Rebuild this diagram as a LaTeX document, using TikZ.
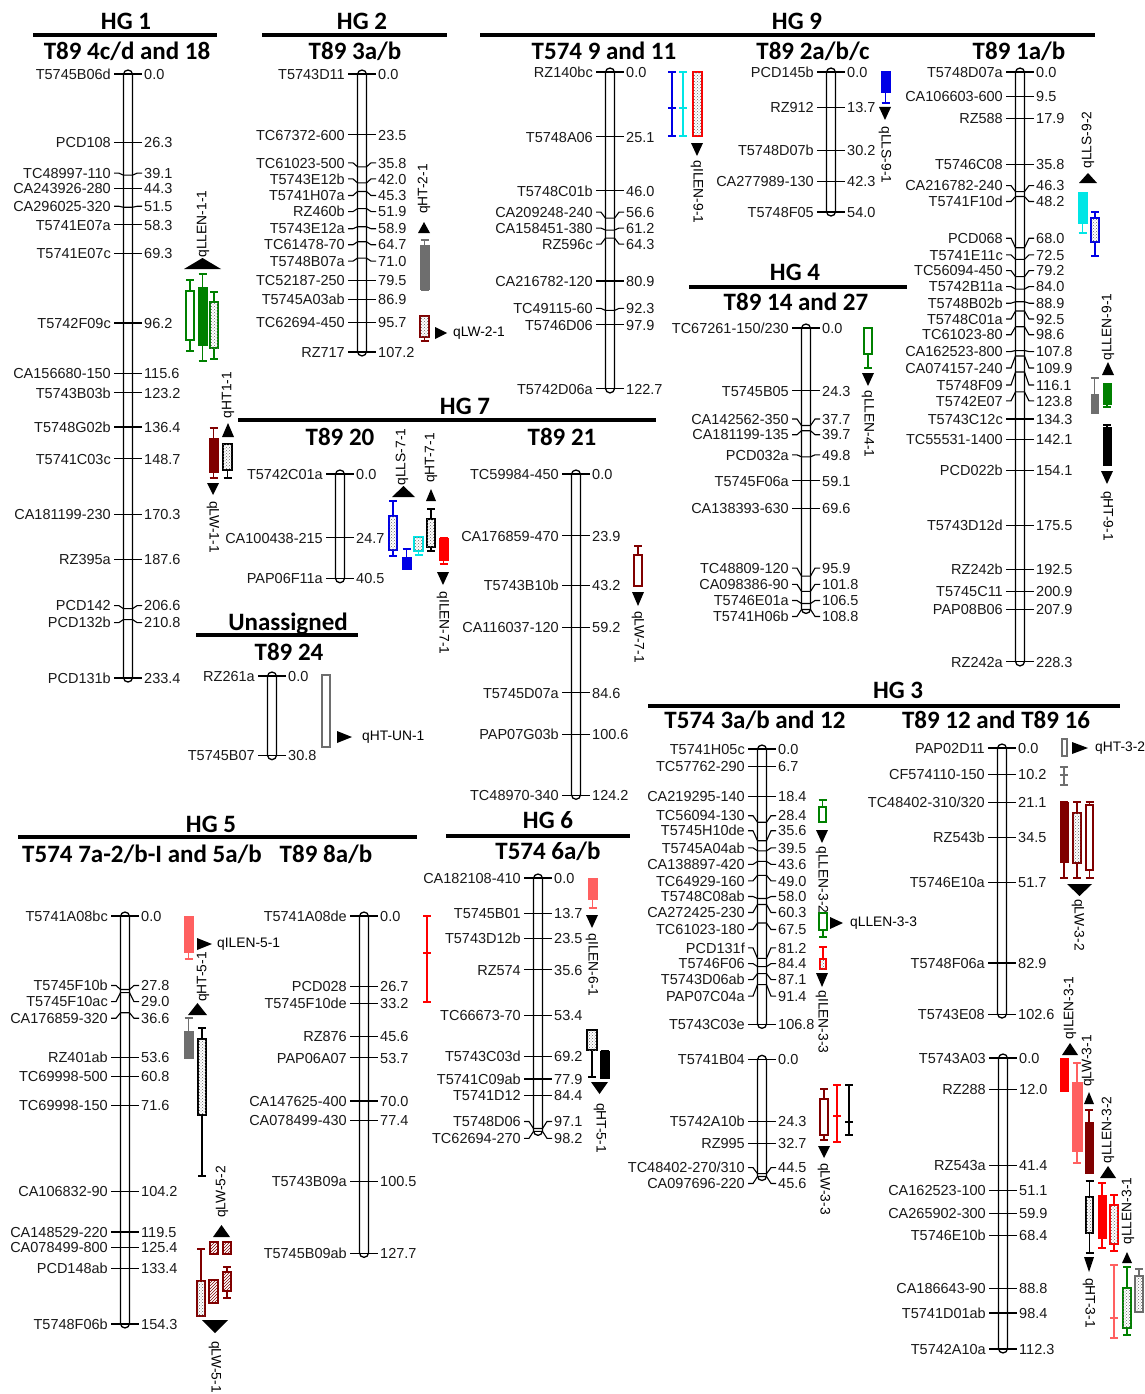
\documentclass[tikz,border=0pt]{standalone}
\usepackage{fontspec}
\setmainfont{Liberation Sans}
\newfontfamily\ttlfont{Carlito}
\usetikzlibrary{patterns}
\definecolor{qgreen}{RGB}{0,128,0}
\definecolor{qmaroon}{RGB}{128,0,0}
\definecolor{qred}{RGB}{255,0,0}
\definecolor{qsalmon}{RGB}{255,96,96}
\definecolor{qblue}{RGB}{0,0,230}
\definecolor{qcyan}{RGB}{0,230,230}
\definecolor{qgrey}{RGB}{110,110,110}
\tikzset{
 chbar/.style={draw=black, line width=1.3pt, fill=white, rounded corners=4.5pt},
 tickline/.style={draw=black, line width=1.1pt},
 mk/.style={font=\fontsize{14.5}{15}\selectfont, inner sep=0pt, text=black!90},
 ql/.style={font=\fontsize{13.8}{14}\selectfont, inner sep=0pt},
 hg/.style={font=\ttlfont\bfseries\fontsize{25}{25}\selectfont, inner sep=0pt, anchor=base},
 hline/.style={line width=4pt},
 qf/.style={draw=#1, fill=#1, line width=1pt},
 qo/.style={draw=#1, fill=white, line width=1.3pt},
 qc/.style={draw=#1, fill=white, line width=1.3pt, postaction={pattern=crosshatch dots, pattern color=black!60}},
 qh/.style={draw=#1, fill=white, line width=1.3pt, postaction={pattern=north east lines, pattern color=#1}},
 wl/.style={draw=#1, line width=1.3pt},
}
% chromosome: prefix, cx, y0, scale, length, list value/dy/name
\newcommand\chrom[6]{%
 \draw[chbar] (#2-4.5,#3-4) rectangle ({#2+4.5},{#3+#5*#4+4});
 \foreach \mv/\md/\mn [count=\mi] in {#6}{%
   \pgfmathsetmacro\yp{#3+\mv*#4}%
   \pgfmathsetmacro\yl{\yp+\md}%
   \draw[tickline] (#2-14,\yl) -- (#2-9,\yl) -- (#2-4.5,\yp) -- (#2+4.5,\yp) -- (#2+9,\yl) -- (#2+14,\yl);
   \node[mk, anchor=base east] (#1n\mi) at (#2-17,\yl+5.2) {\mn};
   \node[mk, anchor=base west] (#1v\mi) at (#2+16,\yl+5.2) {\mv};
 }}
\newcommand\wsk[4]{\draw[wl=#1] (#2,#3) -- (#2,#4) (#2-4,#3) -- (#2+4,#3) (#2-4,#4) -- (#2+4,#4);}
\newcommand\wskm[5]{\draw[wl=#1] (#2,#3) -- (#2,#4) (#2-4,#3) -- (#2+4,#3) (#2-4,#4) -- (#2+4,#4) (#2-4,#5) -- (#2+4,#5);}
\newcommand\qb[6]{\draw[#1=#2] (#3,#4) rectangle (#5,#6);}
\newcommand\tup[4]{\fill (#1-#4,#3) -- (#1+#4,#3) -- (#1,#2) -- cycle;}
\newcommand\tdn[4]{\fill (#1-#4,#2) -- (#1+#4,#2) -- (#1,#3) -- cycle;}
\newcommand\trt[4]{\fill (#1,#3-#4) -- (#1,#3+#4) -- (#2,#3) -- cycle;}
\begin{document}
\begin{tikzpicture}[x=1pt,y=-1pt]
\fill[white] (0,0) rectangle (1145,1394);
\useasboundingbox (0,0) rectangle (1145,1394);
% ---------- headings
\node[hg] (hg1) at (126,30) {HG 1};
\draw[hline] (33,35) -- (217,35);
\node[hg] (t1) at (127,60) {T89 4c/d and 18};
\node[hg] (hg2) at (362,30) {HG 2};
\draw[hline] (262,35) -- (447,35);
\node[hg] (t2) at (355,60) {T89 3a/b};
\node[hg] (hg9) at (797,30) {HG 9};
\draw[hline] (480,35) -- (1095,35);
\node[hg] (t3) at (604,60) {T574 9 and 11};
\node[hg] (t4) at (813,60) {T89 2a/b/c};
\node[hg] (t5) at (1019,60) {T89 1a/b};
\node[hg] (hg4) at (795,280) {HG 4};
\draw[hline] (689,287) -- (907,287);
\node[hg] (t6) at (796,310) {T89 14 and 27};
\node[hg] (hg7) at (465,414) {HG 7};
\draw[hline] (238,420) -- (656,420);
\node[hg] (t7) at (340,445) {T89 20};
\node[hg] (t8) at (562,445) {T89 21};
\node[hg] (hgu) at (288,630) {Unassigned};
\draw[hline] (196,635) -- (358,635);
\node[hg] (t9) at (289,660) {T89 24};
\node[hg] (hg5) at (211,832) {HG 5};
\draw[hline] (18,837) -- (417,837);
\node[hg] (t10) at (142,862) {T574 7a-2/b-I and 5a/b};
\node[hg] (t11) at (326,862) {T89 8a/b};
\node[hg] (hg6) at (548,828) {HG 6};
\draw[hline] (446,836) -- (630,836);
\node[hg] (t12) at (548,859) {T574 6a/b};
\node[hg] (hg3) at (898,698) {HG 3};
\draw[hline] (648,706) -- (1120,706);
\node[hg] (t13) at (755,728) {T574 3a/b and 12};
\node[hg] (t15) at (996,728) {T89 12 and T89 16};
% ---------- chromosomes
\chrom{ca}{128}{74}{2.588}{233.4}{0.0/0/T5745B06d, 26.3/0/PCD108, 39.1/-2/TC48997-110, 44.3/0/CA243926-280, 51.5/-1/CA296025-320, 58.3/0/T5741E07a, 69.3/0/T5741E07c, 96.2/0/T5742F09c, 115.6/0/CA156680-150, 123.2/0/T5743B03b, 136.4/0/T5748G02b, 148.7/0/T5741C03c, 170.3/0/CA181199-230, 187.6/0/RZ395a, 206.6/-3/PCD142, 210.8/3/PCD132b, 233.4/0/PCD131b}
\chrom{cb}{362}{74}{2.593}{107.2}{0.0/0/T5743D11, 23.5/0/TC67372-600, 35.8/-4/TC61023-500, 42.0/-4/T5743E12b, 45.3/4/T5741H07a, 51.9/3/RZ460b, 58.9/2/T5743E12a, 64.7/3/TC61478-70, 71.0/3/T5748B07a, 79.5/0/TC52187-250, 86.9/0/T5745A03ab, 95.7/0/TC62694-450, 107.2/0/RZ717}
\chrom{cc}{610}{72}{2.583}{122.7}{0.0/0/RZ140bc, 25.1/0/T5748A06, 46.0/0/T5748C01b, 56.6/-6/CA209248-240, 61.2/-2/CA158451-380, 64.3/6/RZ596c, 80.9/0/CA216782-120, 92.3/-2/TC49115-60, 97.9/0/T5746D06, 122.7/0/T5742D06a}
\chrom{cd}{831}{72}{2.593}{54.0}{0.0/0/PCD145b, 13.7/0/RZ912, 30.2/0/T5748D07b, 42.3/0/CA277989-130, 54.0/0/T5748F05}
\chrom{ce}{1020}{72}{2.584}{228.3}{0.0/0/T5748D07a, 9.5/0/CA106603-600, 17.9/0/RZ588, 35.8/0/T5746C08, 46.3/-6/CA216782-240, 48.2/5/T5741F10d, 68.0/-9.5/PCD068, 72.5/-4.5/T5741E11c, 79.2/-6/TC56094-450, 84.0/-2.5/T5742B11a, 88.9/1.5/T5748B02b, 92.5/8/T5748C01a, 98.6/8/TC61023-80, 107.8/1/CA162523-800, 109.9/12/CA074157-240, 116.1/13/T5748F09, 123.8/9/T5742E07, 134.3/0/T5743C12c, 142.1/0/TC55531-1400, 154.1/0/PCD022b, 175.5/0/T5743D12d, 192.5/0/RZ242b, 200.9/0/T5745C11, 207.9/0/PAP08B06, 228.3/0/RZ242a}
\chrom{cf}{806}{328}{2.587}{108.8}{0.0/0/{TC67261-150/230}, 24.3/0/T5745B05, 37.7/-6.5/CA142562-350, 39.7/4/CA181199-135, 49.8/-2/PCD032a, 59.1/0/T5745F06a, 69.6/0/CA138393-630, 95.9/-8/TC48809-120, 101.8/-7/CA098386-90, 106.5/-3/T5746E01a, 108.8/7/T5741H06b}
\chrom{cg}{340}{474}{2.587}{40.5}{0.0/0/T5742C01a, 24.7/0/CA100438-215, 40.5/0/PAP06F11a}
\chrom{ch}{576}{474}{2.587}{124.2}{0.0/0/TC59984-450, 23.9/0/CA176859-470, 43.2/0/T5743B10b, 59.2/0/CA116037-120, 84.6/0/T5745D07a, 100.6/0/PAP07G03b, 124.2/0/TC48970-340}
\chrom{ci}{272}{676}{2.587}{30.8}{0.0/0/RZ261a, 30.8/0/T5745B07}
\chrom{cj}{125}{916}{2.644}{154.3}{0.0/0/T5741A08bc, 27.8/-4/T5745F10b, 29.0/9/T5745F10ac, 36.6/5.5/CA176859-320, 53.6/0/RZ401ab, 60.8/0/TC69998-500, 71.6/0/TC69998-150, 104.2/0/CA106832-90, 119.5/0/CA148529-220, 125.4/0/CA078499-800, 133.4/0/PCD148ab, 154.3/0/T5748F06b}
\chrom{ck}{364}{916}{2.642}{127.7}{0.0/0/T5741A08de, 26.7/0/PCD028, 33.2/0/T5745F10de, 45.6/0/RZ876, 53.7/0/PAP06A07, 70.0/0/CA147625-400, 77.4/0/CA078499-430, 100.5/0/T5743B09a, 127.7/0/T5745B09ab}
\chrom{cl}{538}{878}{2.58}{98.2}{0.0/0/CA182108-410, 13.7/0/T5745B01, 23.5/0/T5743D12b, 35.6/0/RZ574, 53.4/0/TC66673-70, 69.2/0/T5743C03d, 77.9/0/T5741C09ab, 84.4/0/T5741D12, 97.1/-7/T5748D06, 98.2/7/TC62694-270}
\chrom{cm}{762}{749}{2.578}{106.8}{0.0/0/T5741H05c, 6.7/0/TC57762-290, 18.4/0/CA219295-140, 28.4/-6.5/TC56094-130, 35.6/-10/T5745H10de, 39.5/-3/T5745A04ab, 43.6/3/CA138897-420, 49.0/5.5/TC64929-160, 58.0/-2/T5748C08ab, 60.3/8/CA272425-230, 67.5/6.5/TC61023-180, 81.2/-10.5/PCD131f, 84.4/-3/T5746F06, 87.1/6/T5743D06ab, 91.4/11.5/PAP07C04a, 106.8/0/T5743C03e}
\chrom{cn}{762}{1059.3}{2.57}{45.6}{0.0/0/T5741B04, 24.3/0/T5742A10b, 32.7/0/RZ995, 44.5/-6/{TC48402-270/310}, 45.6/7/CA097696-220}
\chrom{co}{1002}{748}{2.593}{102.6}{0.0/0/PAP02D11, 10.2/0/CF574110-150, 21.1/0/{TC48402-310/320}, 34.5/0/RZ543b, 51.7/0/T5746E10a, 82.9/0/T5748F06a, 102.6/0/T5743E08}
\chrom{cp}{1003}{1058}{2.591}{112.3}{0.0/0/T5743A03, 12.0/0/RZ288, 41.4/0/RZ543a, 51.1/0/CA162523-100, 59.9/0/CA265902-300, 68.4/0/T5746E10b, 88.8/0/CA186643-90, 98.4/0/T5741D01ab, 112.3/0/T5742A10a}
% ---------- QTL: HG1
\tup{202.5}{258}{269}{18.5}
\node[ql, rotate=90] (q1) at (203,224) {qLLEN-1-1};
\wsk{qgreen}{190}{280}{351} \qb{qo}{qgreen}{186}{291}{194}{340}
\wsk{qgreen}{202.5}{274}{361} \qb{qf}{qgreen}{198}{287}{207}{345}
\wsk{qgreen}{214}{292}{359} \qb{qc}{qgreen}{210}{302}{218}{348}
\node[ql, rotate=90] (q2) at (228,395) {qHT1-1};
\tup{228}{423}{437}{6}
\wsk{qmaroon}{213.5}{428}{478} \qb{qf}{qmaroon}{209}{438}{218}{472}
\wsk{black}{227.5}{450}{478} \qb{qc}{black}{223}{444}{232}{470}
\tdn{213}{483}{495}{6}
\node[ql, rotate=-90] (q3) at (213,527) {qLW-1-1};
% HG2
\node[ql, rotate=90] (q4) at (424,189) {qHT-2-1};
\tup{424}{222}{233}{6}
\wsk{qgrey}{424.5}{240}{290} \qb{qf}{qgrey}{420}{245}{429}{289}
\wsk{qmaroon}{424.5}{320}{341} \qb{qc}{qmaroon}{420}{316}{429}{337}
\trt{435}{447}{333}{6}
\node[ql, anchor=west] (q5) at (453,333) {qLW-2-1};
% HG9
\wskm{qblue}{672}{72}{136}{108}
\wskm{qcyan}{683}{72}{136}{108}
\qb{qc}{qred}{693}{72}{702}{136}
\tdn{697}{143}{156}{6}
\node[ql, rotate=-90] (q6) at (697,192) {qILEN-9-1};
\wsk{qblue}{885.5}{80}{103} \qb{qf}{qblue}{881}{72}{890}{93}
\tdn{885}{107}{120}{6}
\node[ql, rotate=-90] (q7) at (885,155) {qLLS-9-1};
\node[ql, rotate=90] (q8) at (1088,140) {qLLS-9-2};
\tup{1088}{173}{183}{9}
\wsk{qcyan}{1082.5}{200}{233} \qb{qf}{qcyan}{1078}{192}{1087}{223}
\wsk{qblue}{1095}{212}{256} \qb{qc}{qblue}{1091}{218}{1099}{242}
\node[ql, rotate=90] (q9) at (1108,327) {qLLEN-9-1};
\tup{1108}{362}{375}{6}
\wsk{qgrey}{1094.5}{378}{400} \qb{qf}{qgrey}{1091}{394}{1098}{413}
\wsk{qgreen}{1107}{390}{407} \qb{qf}{qgreen}{1103}{383}{1111}{404}
\wsk{black}{1107}{425}{440} \qb{qf}{black}{1103}{427}{1111}{465}
\tdn{1107}{471}{484}{6}
\node[ql, rotate=-90] (q10) at (1107,516) {qHT-9-1};
% HG4
\wsk{qgreen}{868}{340}{368} \qb{qo}{qgreen}{864}{328}{872}{354}
\tdn{868}{373}{386}{6}
\node[ql, rotate=-90] (q11) at (868,424) {qLLEN-4-1};
% HG7
\node[ql, rotate=90] (q12) at (402,457) {qLLS-7-1};
\tup{403.5}{486}{497}{11.5}
\wsk{qblue}{393}{501}{556} \qb{qc}{qblue}{389}{516}{397}{550}
\wsk{qblue}{406.5}{549}{565} \qb{qf}{qblue}{402}{557}{411}{569}
\wsk{qcyan}{418.5}{545}{555} \qb{qc}{qcyan}{414}{537}{423}{551}
\node[ql, rotate=90] (q13) at (431,458) {qHT-7-1};
\tup{431}{489}{501}{5}
\wsk{black}{431}{509}{551} \qb{qc}{black}{427}{519}{435}{547}
\wsk{qred}{443.5}{538}{564} \qb{qf}{qred}{439}{538}{448}{560}
\tdn{443}{572}{585}{6}
\node[ql, rotate=-90] (q14) at (443,623) {qILEN-7-1};
\wsk{qmaroon}{638}{546}{570} \qb{qo}{qmaroon}{634}{555}{642}{586}
\tdn{638}{592}{606}{6}
\node[ql, rotate=-90] (q15) at (638,637) {qLW-7-1};
% Unassigned
\draw[qo=qgrey, line width=1.1pt] (322,675) rectangle (330,747);
\trt{337}{352}{737}{6}
\node[ql, anchor=west] (q16) at (362,737) {qHT-UN-1};
% HG5
\wsk{qsalmon}{188.5}{930}{959} \qb{qf}{qsalmon}{184}{916}{193}{952}
\trt{197}{212}{944}{6}
\node[ql, anchor=west] (q17) at (217,944) {qILEN-5-1};
\node[ql, rotate=90] (q18) at (203,977) {qHT-5-1};
\tup{197.5}{1003}{1015}{9.5}
\wsk{qgrey}{188.5}{1018}{1040} \qb{qf}{qgrey}{184}{1031}{193}{1058}
\wsk{black}{202}{1028}{1176} \qb{qc}{black}{198}{1039}{206}{1115}
\node[ql, rotate=90] (q19) at (222,1192) {qLW-5-2};
\tup{221.5}{1225}{1237}{8.5}
\qb{qh}{qmaroon}{210}{1242}{218}{1254}
\qb{qh}{qmaroon}{223}{1242}{231}{1254}
\wsk{qmaroon}{227}{1267}{1298} \qb{qh}{qmaroon}{223}{1272}{231}{1291}
\qb{qh}{qmaroon}{209}{1280}{218}{1303}
\wsk{qmaroon}{201}{1249}{1300} \qb{qc}{qmaroon}{197}{1281}{205}{1316}
\tdn{215}{1320}{1333}{13}
\node[ql, rotate=-90] (q20) at (215,1367) {qLW-5-1};
\draw[wl=qred] (427,916) -- (427,1002) (423,916) -- (431,916) (423,953) -- (431,953) (423,1002) -- (431,1002);
% HG6
\wsk{qsalmon}{592.5}{890}{908} \qb{qf}{qsalmon}{588}{878}{597}{899}
\tdn{592}{915}{928}{6}
\node[ql, rotate=-90] (q21) at (592,965) {qILEN-6-1};
\wsk{black}{592}{1040}{1077} \qb{qc}{black}{587}{1030}{597}{1050}
\wsk{black}{604.5}{1051}{1078} \qb{qf}{black}{600}{1051}{609}{1078}
\tdn{599.5}{1082}{1094}{8.5}
\node[ql, rotate=-90] (q22) at (600,1128) {qHT-5-1};
% HG3 T574
\wsk{qgreen}{822.5}{800}{815} \qb{qo}{qgreen}{819}{807}{826}{822}
\tdn{822}{830}{843}{6}
\node[ql, rotate=-90] (q23) at (822,880) {qLLEN-3-2};
\wsk{qgreen}{823}{920}{937} \qb{qo}{qgreen}{819}{913}{827}{930}
\trt{830}{843}{923}{6}
\node[ql, anchor=west] (q24) at (850,923) {qLLEN-3-3};
\wsk{qred}{823}{947}{965} \qb{qc}{qred}{820}{959}{826}{969}
\tdn{822}{973}{987}{6}
\node[ql, rotate=-90] (q25) at (822,1022) {qILEN-3-3};
\wsk{qmaroon}{824}{1089}{1140} \qb{qo}{qmaroon}{820}{1099}{828}{1135}
\wskm{qred}{837}{1085}{1142}{1116}
\wskm{black}{849}{1085}{1135}{1122}
\tdn{824}{1146}{1158}{6}
\node[ql, rotate=-90] (q26) at (824,1189) {qLW-3-3};
% HG3 T89
\draw[qo=qgrey, line width=1.1pt] (1062,739) rectangle (1067,756);
\trt{1072}{1088}{748}{6}
\node[ql, anchor=west] (q27) at (1095,748) {qHT-3-2};
\wskm{qgrey}{1064}{767}{785}{775}
\wsk{qmaroon}{1064}{802}{878} \qb{qf}{qmaroon}{1060}{802}{1068}{862}
\wsk{qmaroon}{1077}{802}{878} \qb{qc}{qmaroon}{1073}{813}{1081}{863}
\wsk{qmaroon}{1089.5}{802}{878} \qb{qo}{qmaroon}{1086}{805}{1093}{870}
\tdn{1079.5}{884}{896}{12.5}
\node[ql, rotate=-90] (q28) at (1078,925) {qLW-3-2};
\node[ql, rotate=90] (q29) at (1070,1008) {qILEN-3-1};
\tup{1070}{1043}{1055}{8}
\qb{qf}{qred}{1060}{1058}{1068}{1091}
\node[ql, rotate=90] (q30) at (1088,1061) {qLW-3-1};
\wsk{qsalmon}{1077}{1063}{1163} \qb{qf}{qsalmon}{1072}{1082}{1082}{1151}
\tup{1089}{1092}{1104}{5}
\wsk{qmaroon}{1089}{1110}{1173} \qb{qf}{qmaroon}{1085}{1122}{1093}{1173}
\node[ql, rotate=90] (q31) at (1108,1130) {qLLEN-3-2};
\tup{1108}{1166}{1178}{8}
\wsk{black}{1089.5}{1181}{1253} \qb{qc}{black}{1086}{1197}{1093}{1233}
\wsk{qred}{1102}{1183}{1248} \qb{qf}{qred}{1098}{1195}{1106}{1238}
\wsk{qred}{1114}{1195}{1251} \qb{qc}{qred}{1110}{1205}{1118}{1244}
\node[ql, rotate=90] (q32) at (1128,1211) {qLLEN-3-1};
\tup{1127}{1252}{1263}{5}
\tdn{1089}{1257}{1272}{5}
\node[ql, rotate=-90] (q33) at (1089,1303) {qHT-3-1};
\wskm{qsalmon}{1114}{1265}{1338}{1318}
\wsk{qgreen}{1127}{1267}{1335} \qb{qc}{qgreen}{1123}{1288}{1131}{1328}
\wsk{qgrey}{1139}{1269}{1312} \qb{qc}{qgrey}{1135}{1276}{1143}{1312}
\end{tikzpicture}
\end{document}
